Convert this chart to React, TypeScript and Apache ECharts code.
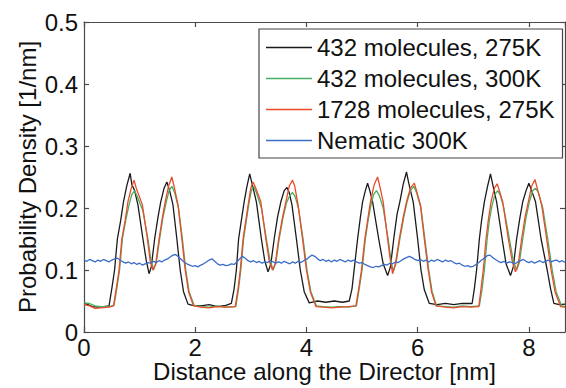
import React, { useEffect, useRef } from 'react';
import * as echarts from 'echarts';

const FONT = '"Liberation Sans", Arial, Helvetica, sans-serif';

const seriesNames = [
  '432 molecules, 275K',
  '432 molecules, 300K',
  '1728 molecules, 275K',
  'Nematic 300K',
];
const seriesColors = ['#1a1a1a', '#45b060', '#ec4a2a', '#3a6cc8'];

const xMin = 0;
const xMax = 8.65;
const xInterval = 2;
const yMin = 0;
const yMax = 0.5;
const yInterval = 0.1;

// 432 molecules, 275K  [distance nm, density 1/nm]
const black432_275: [number, number][] = [
  [0.0, 0.046], [0.08, 0.044], [0.15, 0.041], [0.25, 0.04], [0.35, 0.041], [0.45, 0.042],
  [0.5, 0.07], [0.55, 0.1], [0.6, 0.15], [0.66, 0.18], [0.71, 0.21], [0.77, 0.236], [0.83, 0.256],
  [0.86, 0.238], [0.91, 0.228], [0.97, 0.205], [1.06, 0.15], [1.12, 0.115], [1.17, 0.094],
  [1.21, 0.105], [1.27, 0.15], [1.33, 0.185], [1.38, 0.21], [1.44, 0.232], [1.49, 0.242],
  [1.54, 0.228], [1.6, 0.205], [1.67, 0.15], [1.73, 0.1], [1.79, 0.065], [1.87, 0.045],
  [1.95, 0.043], [2.1, 0.042], [2.25, 0.044], [2.4, 0.041], [2.55, 0.043], [2.65, 0.046],
  [2.7, 0.07], [2.74, 0.1], [2.78, 0.15], [2.83, 0.18], [2.88, 0.21], [2.93, 0.235], [2.98, 0.255],
  [3.02, 0.24], [3.1, 0.21], [3.19, 0.15], [3.25, 0.115], [3.31, 0.097], [3.36, 0.11],
  [3.42, 0.15], [3.48, 0.185], [3.54, 0.21], [3.6, 0.228], [3.65, 0.233], [3.69, 0.225],
  [3.74, 0.205], [3.82, 0.15], [3.89, 0.1], [3.96, 0.065], [4.05, 0.047], [4.2, 0.05],
  [4.35, 0.048], [4.5, 0.05], [4.65, 0.048], [4.77, 0.05],
  [4.82, 0.07], [4.87, 0.11], [4.92, 0.15], [4.97, 0.185], [5.01, 0.21], [5.06, 0.228], [5.1, 0.24],
  [5.14, 0.228], [5.19, 0.21], [5.3, 0.15], [5.38, 0.11], [5.46, 0.091], [5.51, 0.105],
  [5.57, 0.15], [5.63, 0.19], [5.68, 0.21], [5.74, 0.238], [5.8, 0.258], [5.84, 0.24],
  [5.92, 0.21], [6.0, 0.15], [6.06, 0.1], [6.12, 0.068], [6.21, 0.046], [6.35, 0.044],
  [6.5, 0.046], [6.65, 0.044], [6.8, 0.046], [6.98, 0.046],
  [7.02, 0.07], [7.06, 0.1], [7.11, 0.15], [7.15, 0.18], [7.2, 0.21], [7.26, 0.236], [7.31, 0.255],
  [7.35, 0.238], [7.42, 0.21], [7.52, 0.15], [7.59, 0.11], [7.67, 0.091], [7.72, 0.105],
  [7.78, 0.15], [7.84, 0.185], [7.89, 0.21], [7.95, 0.228], [8.0, 0.24], [8.05, 0.228],
  [8.12, 0.21], [8.22, 0.15], [8.33, 0.1], [8.39, 0.07], [8.45, 0.046], [8.55, 0.044], [8.65, 0.045],
];

// 432 molecules, 300K
const green432_300: [number, number][] = [
  [0.0, 0.047], [0.1, 0.046], [0.2, 0.042], [0.3, 0.041], [0.45, 0.041], [0.54, 0.043],
  [0.59, 0.07], [0.64, 0.1], [0.69, 0.15], [0.75, 0.18], [0.81, 0.205], [0.86, 0.222], [0.91, 0.228],
  [0.96, 0.218], [1.06, 0.195], [1.15, 0.15], [1.2, 0.118], [1.25, 0.1], [1.3, 0.112],
  [1.36, 0.15], [1.42, 0.185], [1.48, 0.21], [1.53, 0.228], [1.58, 0.235], [1.63, 0.225],
  [1.7, 0.2], [1.77, 0.15], [1.83, 0.1], [1.89, 0.065], [1.98, 0.043], [2.1, 0.041],
  [2.25, 0.04], [2.4, 0.042], [2.55, 0.04], [2.73, 0.041],
  [2.78, 0.07], [2.82, 0.1], [2.87, 0.15], [2.92, 0.18], [2.97, 0.21], [3.01, 0.228], [3.05, 0.235],
  [3.1, 0.225], [3.19, 0.2], [3.28, 0.15], [3.34, 0.118], [3.4, 0.1], [3.45, 0.112],
  [3.51, 0.15], [3.58, 0.185], [3.64, 0.208], [3.7, 0.22], [3.75, 0.225], [3.8, 0.218],
  [3.86, 0.198], [3.94, 0.15], [4.01, 0.1], [4.08, 0.065], [4.18, 0.042], [4.3, 0.041],
  [4.45, 0.04], [4.6, 0.041], [4.75, 0.04], [4.9, 0.042],
  [4.95, 0.07], [5.0, 0.1], [5.06, 0.15], [5.11, 0.18], [5.16, 0.205], [5.21, 0.222], [5.26, 0.228],
  [5.31, 0.22], [5.38, 0.2], [5.47, 0.15], [5.52, 0.115], [5.56, 0.098], [5.61, 0.11],
  [5.68, 0.15], [5.75, 0.185], [5.81, 0.21], [5.87, 0.228], [5.93, 0.235], [5.98, 0.225],
  [6.06, 0.2], [6.13, 0.15], [6.2, 0.1], [6.26, 0.065], [6.34, 0.042], [6.5, 0.041],
  [6.65, 0.04], [6.8, 0.042], [6.95, 0.041], [7.11, 0.042],
  [7.16, 0.07], [7.2, 0.1], [7.25, 0.15], [7.29, 0.18], [7.34, 0.205], [7.39, 0.222], [7.44, 0.228],
  [7.49, 0.22], [7.55, 0.2], [7.65, 0.15], [7.72, 0.115], [7.78, 0.1], [7.83, 0.112],
  [7.89, 0.15], [7.95, 0.185], [8.01, 0.21], [8.07, 0.228], [8.12, 0.232], [8.17, 0.225],
  [8.25, 0.2], [8.34, 0.15], [8.42, 0.1], [8.49, 0.065], [8.59, 0.042], [8.65, 0.041],
];

// 1728 molecules, 275K
const red1728_275: [number, number][] = [
  [0.0, 0.044], [0.1, 0.042], [0.2, 0.038], [0.3, 0.039], [0.45, 0.04], [0.53, 0.042],
  [0.58, 0.07], [0.63, 0.1], [0.68, 0.15], [0.74, 0.18], [0.79, 0.21], [0.85, 0.232], [0.9, 0.245],
  [0.94, 0.232], [1.05, 0.205], [1.14, 0.15], [1.19, 0.115], [1.24, 0.1], [1.29, 0.11],
  [1.35, 0.15], [1.41, 0.185], [1.46, 0.21], [1.52, 0.235], [1.58, 0.25], [1.62, 0.235],
  [1.69, 0.205], [1.76, 0.15], [1.82, 0.1], [1.88, 0.065], [1.97, 0.042], [2.1, 0.04],
  [2.25, 0.039], [2.4, 0.041], [2.55, 0.04], [2.72, 0.041],
  [2.77, 0.07], [2.81, 0.1], [2.86, 0.15], [2.91, 0.18], [2.96, 0.21], [3.0, 0.232], [3.04, 0.242],
  [3.09, 0.232], [3.18, 0.21], [3.27, 0.15], [3.33, 0.115], [3.39, 0.1], [3.44, 0.11],
  [3.5, 0.15], [3.57, 0.185], [3.63, 0.21], [3.69, 0.235], [3.75, 0.245], [3.79, 0.235],
  [3.85, 0.205], [3.93, 0.15], [4.0, 0.1], [4.07, 0.065], [4.17, 0.041], [4.3, 0.04],
  [4.45, 0.039], [4.6, 0.04], [4.75, 0.041], [4.89, 0.042],
  [4.94, 0.07], [4.99, 0.1], [5.05, 0.15], [5.1, 0.18], [5.15, 0.21], [5.22, 0.238], [5.28, 0.25],
  [5.32, 0.235], [5.38, 0.21], [5.46, 0.15], [5.51, 0.115], [5.55, 0.094], [5.6, 0.11],
  [5.67, 0.15], [5.74, 0.185], [5.8, 0.21], [5.87, 0.232], [5.94, 0.24], [5.98, 0.228],
  [6.05, 0.205], [6.12, 0.15], [6.19, 0.1], [6.25, 0.065], [6.33, 0.042], [6.5, 0.04],
  [6.65, 0.039], [6.8, 0.041], [6.95, 0.04], [7.1, 0.041],
  [7.14, 0.07], [7.18, 0.1], [7.23, 0.15], [7.27, 0.18], [7.32, 0.21], [7.38, 0.232], [7.43, 0.239],
  [7.47, 0.228], [7.53, 0.21], [7.63, 0.15], [7.7, 0.115], [7.76, 0.097], [7.81, 0.11],
  [7.87, 0.15], [7.93, 0.185], [7.99, 0.21], [8.05, 0.235], [8.11, 0.246], [8.15, 0.232],
  [8.23, 0.205], [8.32, 0.15], [8.4, 0.1], [8.47, 0.065], [8.57, 0.041], [8.65, 0.04],
];

// Nematic 300K, sampled every 0.05 nm from 0 to 8.65
const nematicStep = 0.05;
const nematic300: number[] = [
  0.116, 0.114, 0.117, 0.115, 0.113, 0.116, 0.114, 0.117, 0.115, 0.113,
  0.116, 0.118, 0.119, 0.116, 0.113, 0.111, 0.113, 0.11, 0.112, 0.109,
  0.111, 0.108, 0.11, 0.112, 0.111, 0.114, 0.112, 0.115, 0.113, 0.116,
  0.118, 0.121, 0.124, 0.125, 0.121, 0.117, 0.113, 0.11, 0.108, 0.106,
  0.107, 0.105, 0.108, 0.11, 0.113, 0.116, 0.118, 0.114, 0.11, 0.108,
  0.109, 0.107, 0.108, 0.11, 0.109, 0.113, 0.118, 0.122, 0.119, 0.115,
  0.113, 0.115, 0.112, 0.114, 0.111, 0.113, 0.112, 0.115, 0.113, 0.111,
  0.113, 0.111, 0.114, 0.112, 0.11, 0.113, 0.111, 0.114, 0.112, 0.115,
  0.117, 0.121, 0.124, 0.122, 0.118, 0.115, 0.117, 0.114, 0.116, 0.113,
  0.116, 0.114, 0.117, 0.115, 0.113, 0.116, 0.114, 0.116, 0.113, 0.111,
  0.112, 0.109, 0.107, 0.105, 0.104, 0.106, 0.105, 0.107, 0.109, 0.108,
  0.111, 0.11, 0.113, 0.112, 0.115, 0.118, 0.12, 0.122, 0.12, 0.117,
  0.115, 0.117, 0.114, 0.116, 0.113, 0.116, 0.114, 0.117, 0.115, 0.113,
  0.116, 0.114, 0.115, 0.112, 0.11, 0.111, 0.108, 0.106, 0.107, 0.105,
  0.106, 0.109, 0.112, 0.116, 0.119, 0.123, 0.124, 0.12, 0.117, 0.114,
  0.112, 0.114, 0.111, 0.113, 0.112, 0.11, 0.113, 0.115, 0.117, 0.114,
  0.112, 0.114, 0.111, 0.113, 0.115, 0.112, 0.114, 0.116, 0.113, 0.115,
  0.116, 0.113, 0.115, 0.112,
];

const AXIS_COLOR = '#4a4a4a';

export default function App() {
  const ref = useRef<HTMLDivElement>(null);

  useEffect(() => {
    if (!ref.current) return;
    const chart = echarts.init(ref.current, undefined, { renderer: 'svg' });

    const nematicPoints: [number, number][] = nematic300.map((v, i) => [
      Math.round(i * nematicStep * 100) / 100,
      v,
    ]);
    const allData = [black432_275, green432_300, red1728_275, nematicPoints];

    const baseX = {
      type: 'value' as const,
      min: xMin,
      max: xMax,
      interval: xInterval,
      splitLine: { show: false },
      axisLine: { show: true, onZero: false, lineStyle: { color: AXIS_COLOR, width: 1.2 } },
      axisTick: { show: true, inside: true, length: 5, lineStyle: { color: AXIS_COLOR, width: 1.2 } },
    };
    const baseY = {
      type: 'value' as const,
      min: yMin,
      max: yMax,
      interval: yInterval,
      splitLine: { show: false },
      axisLine: { show: true, onZero: false, lineStyle: { color: AXIS_COLOR, width: 1.2 } },
      axisTick: { show: true, inside: true, length: 5, lineStyle: { color: AXIS_COLOR, width: 1.2 } },
    };

    chart.setOption({
      animation: false,
      backgroundColor: '#ffffff',
      textStyle: { fontFamily: FONT },
      grid: {
        left: 84,
        right: 1,
        top: 22,
        bottom: 56,
        containLabel: false,
        outerBoundsMode: 'none',
      },
      legend: {
        orient: 'vertical',
        left: 259,
        top: 29,
        padding: [3, 8, 2, 7],
        icon: 'rect',
        itemWidth: 46,
        itemHeight: 1.5,
        itemGap: 0,
        backgroundColor: '#ffffff',
        borderColor: '#444444',
        borderWidth: 1.2,
        borderRadius: 0,
        selectedMode: false,
        data: seriesNames,
        textStyle: {
          fontFamily: FONT,
          fontSize: 24,
          color: '#111111',
          lineHeight: 31,
          padding: [0, 0, 0, 0],
        },
      },
      xAxis: [
        {
          ...baseX,
          position: 'bottom',
          name: 'Distance along the Director [nm]',
          nameLocation: 'middle',
          nameGap: 30,
          nameMoveOverlap: false,
          nameTextStyle: { fontFamily: FONT, fontSize: 24, lineHeight: 18, color: '#111111' },
          axisLabel: {
            fontFamily: FONT,
            fontSize: 24,
            lineHeight: 18,
            color: '#111111',
            margin: 6,
            showMaxLabel: false,
            formatter: (v: number) => (Math.abs(v % 2) < 1e-9 ? String(v) : ''),
          },
        },
        {
          ...baseX,
          position: 'top',
          axisLabel: { show: false },
        },
      ],
      yAxis: [
        {
          ...baseY,
          position: 'left',
          name: 'Probability Density [1/nm]',
          nameLocation: 'middle',
          nameGap: 45,
          nameMoveOverlap: false,
          nameTextStyle: { fontFamily: FONT, fontSize: 24, color: '#111111' },
          axisLabel: {
            fontFamily: FONT,
            fontSize: 24,
            color: '#111111',
            margin: 6,
          },
        },
        {
          ...baseY,
          position: 'right',
          axisLabel: { show: false },
        },
      ],
      series: seriesNames.map((name, i) => ({
        name,
        type: 'line',
        xAxisIndex: 0,
        yAxisIndex: 0,
        data: allData[i],
        symbol: 'none',
        showSymbol: false,
        smooth: false,
        color: seriesColors[i],
        lineStyle: { color: seriesColors[i], width: 1.3 },
        itemStyle: { color: seriesColors[i] },
        z: 2 + i,
      })),
    });

    return () => {
      chart.dispose();
    };
  }, []);

  return (
    <div
      ref={ref}
      style={{ position: 'absolute', left: 0, top: 0, width: 566, height: 388 }}
    />
  );
}
